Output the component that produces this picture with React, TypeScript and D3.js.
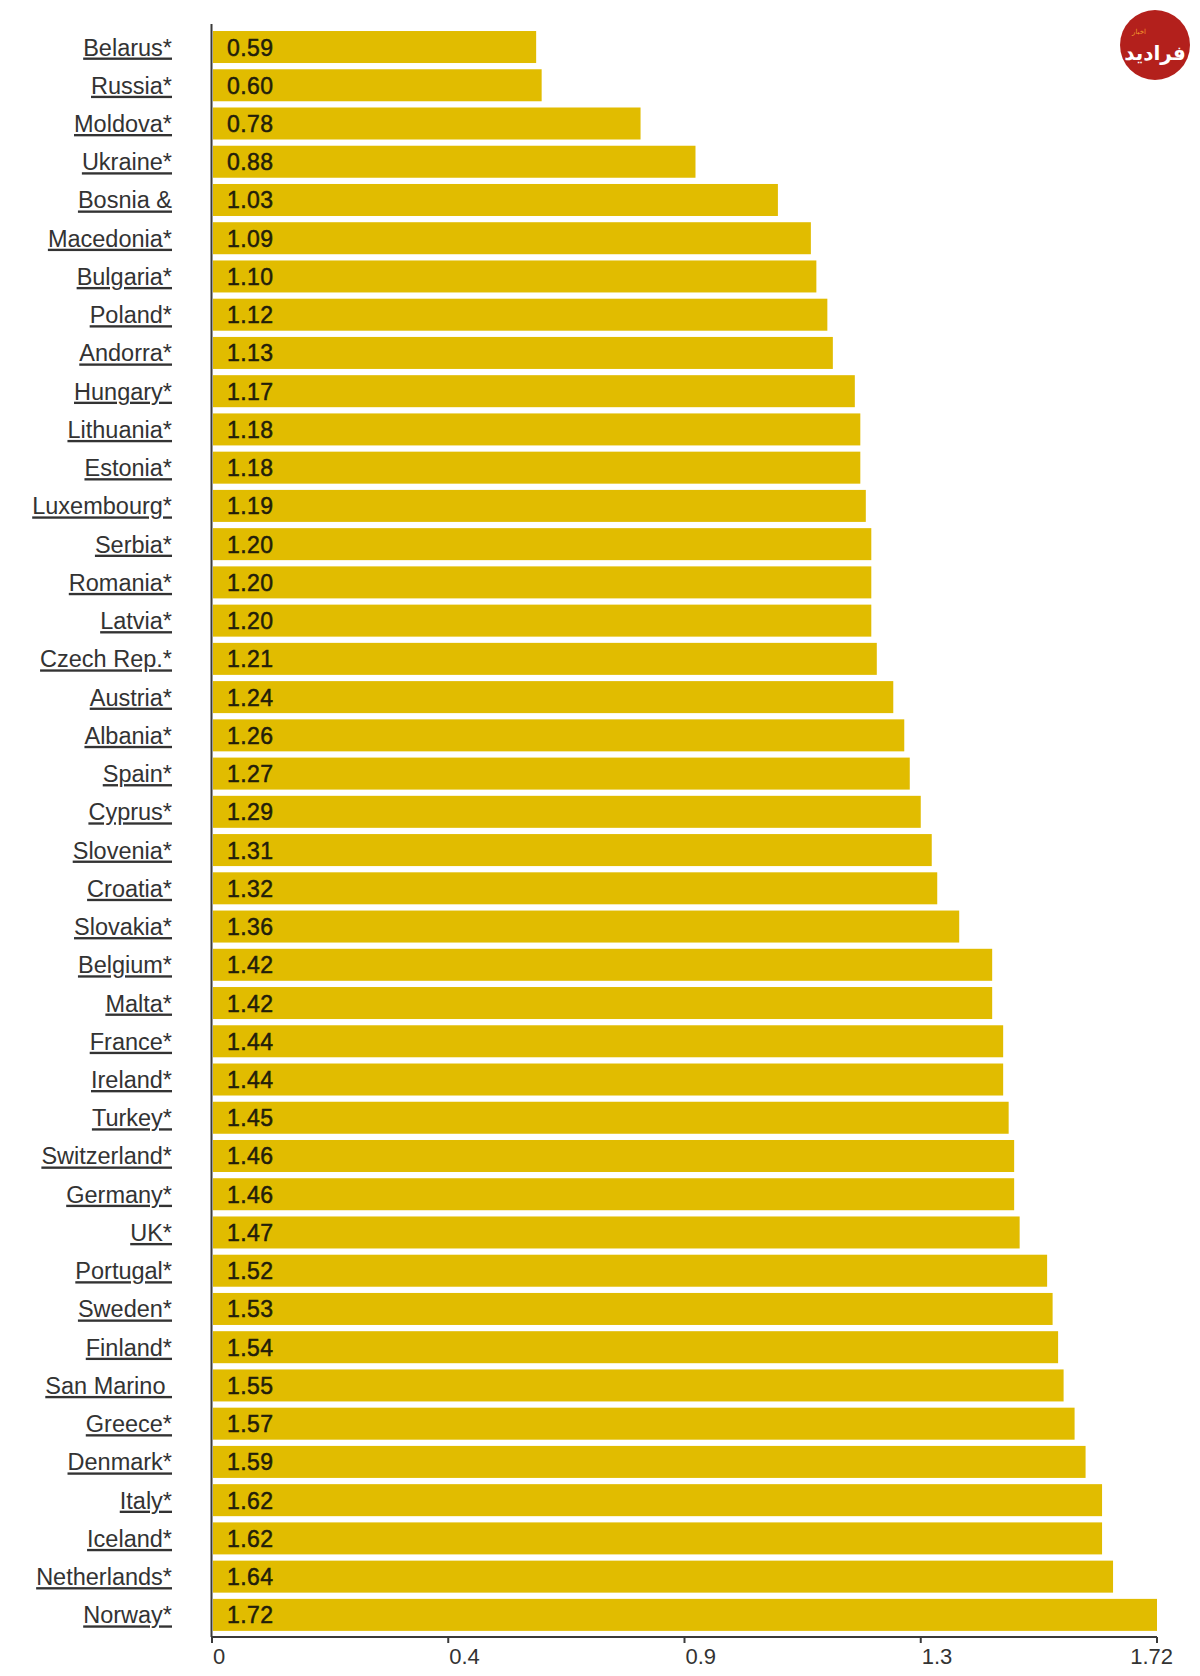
import React from "react";
import * as d3 from "d3";

const countries = [
  "Belarus*", "Russia*", "Moldova*", "Ukraine*", "Bosnia &", "Macedonia*", "Bulgaria*", "Poland*",
  "Andorra*", "Hungary*", "Lithuania*", "Estonia*", "Luxembourg*", "Serbia*", "Romania*", "Latvia*",
  "Czech Rep.*", "Austria*", "Albania*", "Spain*", "Cyprus*", "Slovenia*", "Croatia*", "Slovakia*",
  "Belgium*", "Malta*", "France*", "Ireland*", "Turkey*", "Switzerland*", "Germany*", "UK*",
  "Portugal*", "Sweden*", "Finland*", "San Marino ", "Greece*", "Denmark*", "Italy*", "Iceland*",
  "Netherlands*", "Norway*",
];

const values = [
  0.59, 0.6, 0.78, 0.88, 1.03, 1.09, 1.1, 1.12,
  1.13, 1.17, 1.18, 1.18, 1.19, 1.2, 1.2, 1.2,
  1.21, 1.24, 1.26, 1.27, 1.29, 1.31, 1.32, 1.36,
  1.42, 1.42, 1.44, 1.44, 1.45, 1.46, 1.46, 1.47,
  1.52, 1.53, 1.54, 1.55, 1.57, 1.59, 1.62, 1.62,
  1.64, 1.72,
];

const tickValues = [0, 0.43, 0.86, 1.29, 1.72];
const tickLabels = ["0", "0.4", "0.9", "1.3", "1.72"];

const W = 1200;
const H = 1676;

export default function App() {
  const x = d3.scaleLinear().domain([0, 1.72]).range([212, 1157]);
  const y = d3
    .scaleBand<string>()
    .domain(countries)
    .range([27.9, 1634])
    .paddingInner(0.163)
    .paddingOuter(0.0815);
  const bw = y.bandwidth();
  const axisY = 1637;
  const font = "'Liberation Sans', Arial, sans-serif";

  return (
    <svg
      width={W}
      height={H}
      style={{ position: "absolute", left: 0, top: 0, background: "#fff" }}
      fontFamily={font}
    >
      <rect x={0} y={0} width={W} height={H} fill="#fff" />
      {countries.map((c, i) => {
        const yy = y(c)!;
        return (
          <g key={c}>
            <rect x={213} y={yy} width={x(values[i]) - 213} height={bw} fill="#E1BC00" />
            <text
              x={227}
              y={yy + bw / 2 + 8.5}
              fontSize={23}
              fill="#231e0a"
              stroke="#231e0a"
              strokeWidth={0.5}
              style={{ letterSpacing: "0.4px" }}
            >
              {values[i].toFixed(2)}
            </text>
            <text
              x={172}
              y={yy + bw / 2 + 8.5}
              fontSize={23.5}
              textAnchor="end"
              fill="#333"
              style={{ textDecoration: "underline", whiteSpace: "pre" }}
            >
              {c}
            </text>
          </g>
        );
      })}
      {/* axes */}
      <line x1={211.5} x2={211.5} y1={24} y2={axisY} stroke="#3a3a3a" strokeWidth={2} />
      <line x1={211} x2={x(1.72)} y1={axisY} y2={axisY} stroke="#3a3a3a" strokeWidth={2} />
      {tickValues.map((t, i) => (
        <g key={t}>
          <line x1={x(t)} x2={x(t)} y1={axisY} y2={axisY + 6} stroke="#3a3a3a" strokeWidth={2} />
          <text
            x={i === tickValues.length - 1 ? x(t) + 16 : x(t) + 1}
            y={1664}
            fontSize={22}
            fill="#333"
            textAnchor={i === tickValues.length - 1 ? "end" : "start"}
          >
            {tickLabels[i]}
          </text>
        </g>
      ))}
      {/* logo */}
      <g>
        <circle cx={1155} cy={45} r={35} fill="#B3201C" />
        <text x={1139} y={34} fontSize={7} fill="#F39A2C" textAnchor="middle" fontFamily="'DejaVu Sans', sans-serif">
          اخبار
        </text>
        <text x={1155} y={60} fontSize={20} fontWeight="bold" fill="#fff" textAnchor="middle" fontFamily="'DejaVu Sans', sans-serif">
          فرادید
        </text>
      </g>
    </svg>
  );
}
